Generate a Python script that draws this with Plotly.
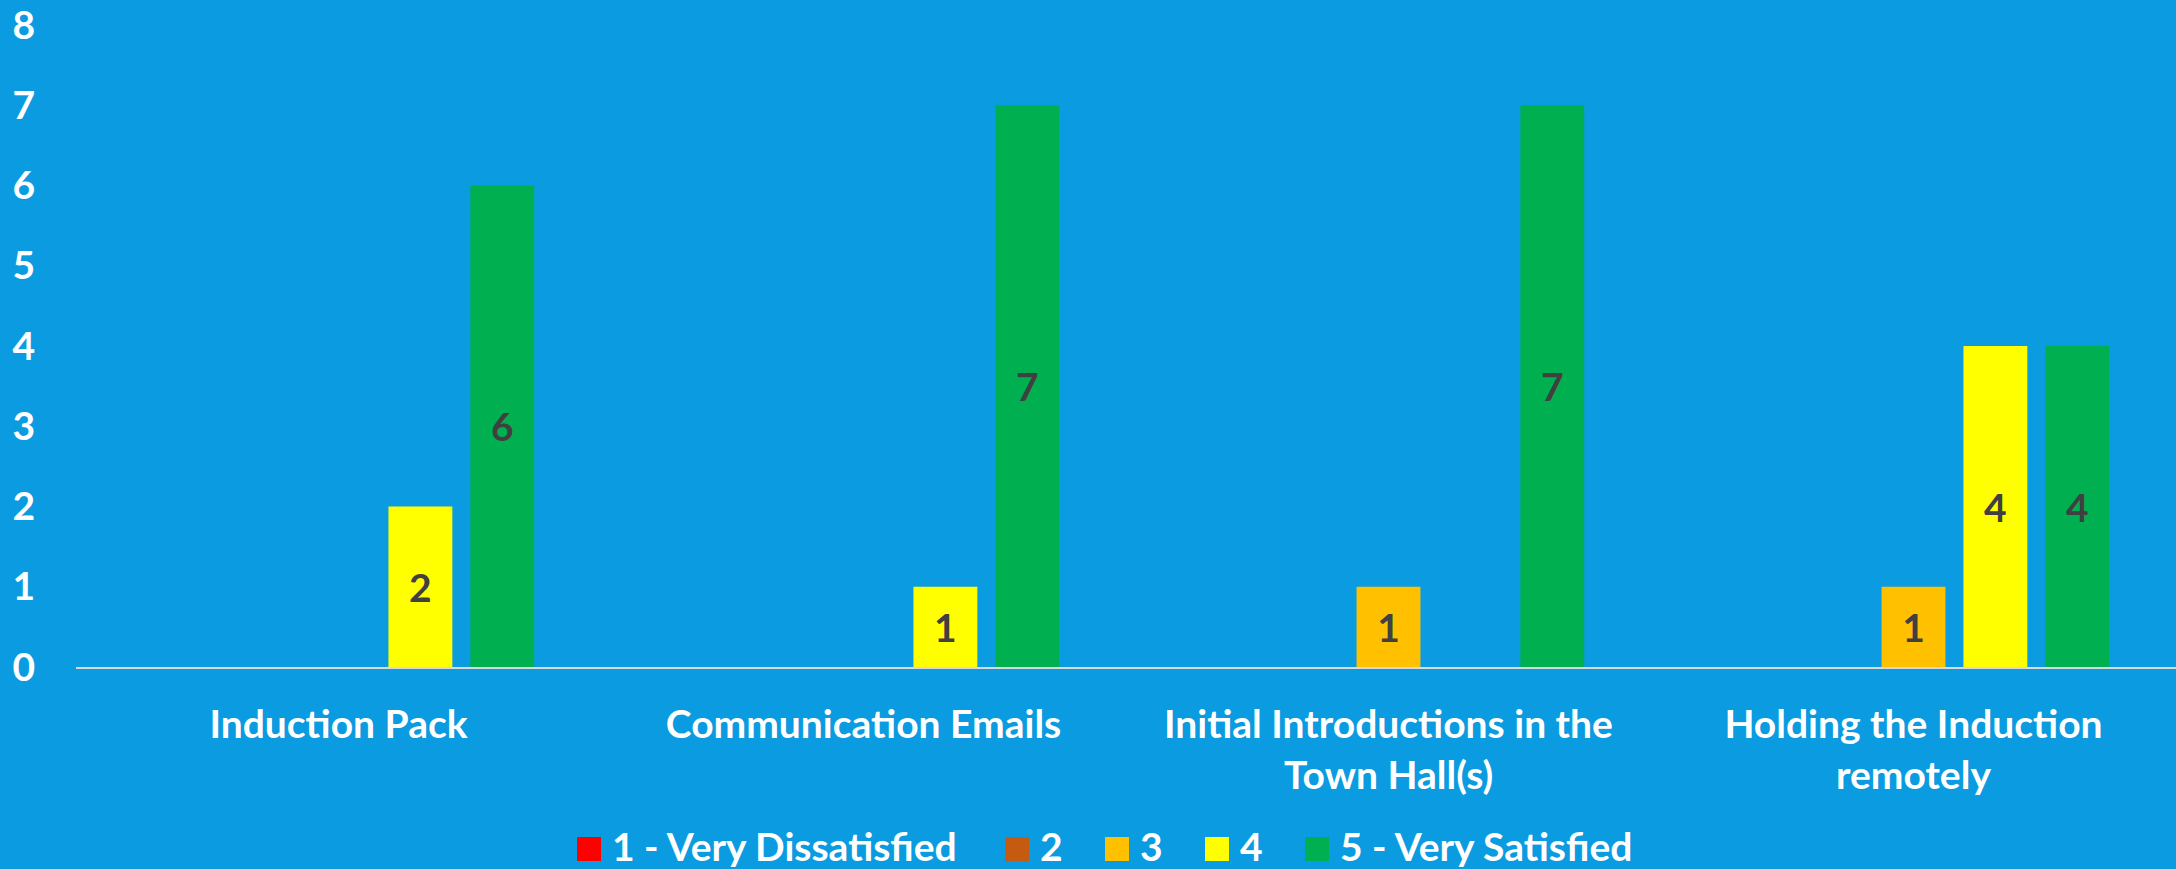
import plotly.graph_objects as go

categories = [
    "Induction Pack",
    "Communication Emails",
    "Initial Introductions in the<br>Town Hall(s)",
    "Holding the Induction<br>remotely",
]
ratings = ["1 - Very Dissatisfied", "2", "3", "4", "5 - Very Satisfied"]
counts = {
    "1 - Very Dissatisfied": [0, 0, 0, 0],
    "2": [0, 0, 0, 0],
    "3": [0, 0, 1, 1],
    "4": [2, 1, 0, 4],
    "5 - Very Satisfied": [6, 7, 7, 4],
}
colors = ["#FF0000", "#C55A11", "#FFC000", "#FFFF00", "#00B050"]

BG = "#0A9BE0"
FONT = "Lato"
FS = 39

W, H = 2176, 869
ML, MR, MT, MB = 76, 0, 25, 202
plot_w, plot_h = W - ML - MR, H - MT - MB

fig = go.Figure()
for name, color in zip(ratings, colors):
    vals = counts[name]
    fig.add_trace(go.Bar(
        x=categories, y=vals, name=name, showlegend=False,
        marker=dict(color=color, line=dict(width=0)),
        text=[str(v) if v else "" for v in vals],
        textposition="inside", insidetextanchor="middle",
        textfont=dict(family=FONT, size=FS, color="#404040", weight="bold"),
        textangle=0,
    ))

# hand-placed legend (Excel style big square swatches, wide spacing)
legend_swatch_px = [589, 1017, 1117, 1217, 1317]
swatch_y = (MT + plot_h - 849) / plot_h
text_y = (MT + plot_h - 846) / plot_h
for name, color, px in zip(ratings, colors, legend_swatch_px):
    xp = (px - ML) / plot_w
    fig.add_shape(
        type="rect", xref="paper", yref="paper",
        xsizemode="pixel", ysizemode="pixel", xanchor=xp, yanchor=swatch_y,
        x0=-12, x1=12, y0=-12, y1=12,
        fillcolor=color, line=dict(width=0),
    )
    fig.add_annotation(
        x=(px + 22 - ML) / plot_w, y=text_y, xref="paper", yref="paper",
        text=name, showarrow=False, xanchor="left", yanchor="middle",
        borderpad=0,
        font=dict(family=FONT, size=FS, color="white", weight="bold"),
    )

fig.update_layout(
    width=W, height=H,
    barmode="group", bargap=0.22, bargroupgap=0.22,
    paper_bgcolor=BG, plot_bgcolor=BG,
    margin=dict(l=ML, r=MR, t=MT, b=MB),
    font=dict(family=FONT, color="white", size=FS, weight="bold"),
    uniformtext=dict(minsize=10, mode="show"),
    showlegend=False,
    xaxis=dict(
        showline=True, linecolor="#D9D9D9", linewidth=2, automargin=False,
        showgrid=False, ticks="", ticklabelstandoff=22,
        tickfont=dict(family=FONT, size=FS, color="white", weight="bold"),
    ),
    yaxis=dict(
        range=[0, 8], dtick=1, showgrid=False, zeroline=False, automargin=False,
        showline=False, ticks="", ticklabelstandoff=40,
        tickfont=dict(family=FONT, size=FS, color="white", weight="bold"),
    ),
)

fig.write_html("out.html", config={"displayModeBar": False},
               post_script="document.body.style.margin='0';")
